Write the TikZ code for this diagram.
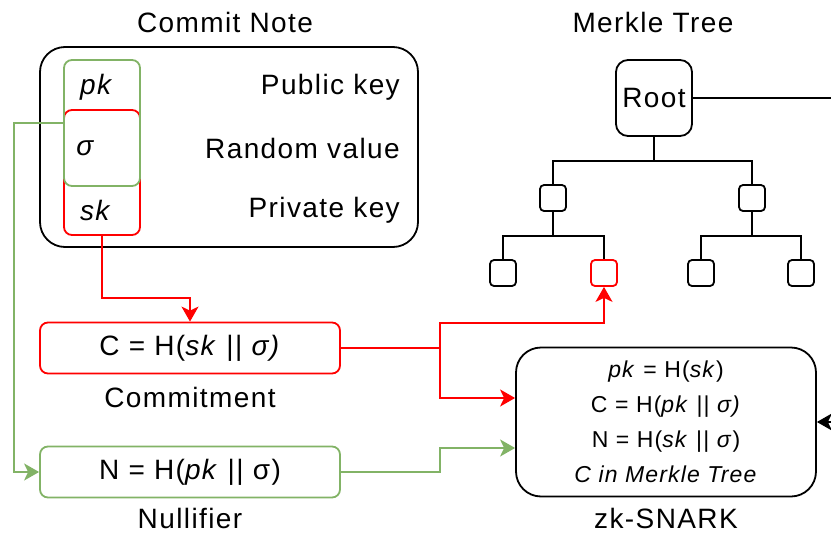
\documentclass[tikz,border=0pt]{standalone}
\usepackage{fontspec}
\setmainfont[LetterSpace=5]{Liberation Sans}
\usetikzlibrary{arrows.meta}
\usetikzlibrary{positioning}

\definecolor{keyred}{HTML}{FF0000}
\definecolor{keygreen}{HTML}{82B366}

\begin{document}
\begin{tikzpicture}[x=1pt,y=-1pt,line width=1.8pt,
        every node/.style={font=\fontsize{28}{32}\selectfont},
        box/.style={draw,rounded corners=8pt,inner sep=0pt},
        leaf/.style={draw,rounded corners=4pt,minimum size=26pt,inner sep=0pt},
        arr/.style={-{Stealth[length=15pt,width=17pt,inset=4pt]}}]
        	\useasboundingbox (0,0) rectangle (831,536);

        	\node (notetitle) at (225,22) {Commit Note};
        	\node[box,rounded corners=25pt,minimum width=378pt,minimum height=200pt] (note) at (229,147) {};
        	\node[box,draw=keyred,minimum width=76pt,minimum height=125pt] (rbox) at (102,172.5) {};
        	\node[box,draw=keygreen,minimum width=76pt,minimum height=126pt] (gbox) at (102,123) {};
        	\node (pk) at (97,87) {\textit{pk}};
        	\node (sigma) at (86,148) {\textit{σ}};
        	\node (sk) at (96,210) {\textit{sk}};
        	\node[anchor=east] (pub) at (404,87) {Public key};
        	\node[anchor=east] (rand) at (404,148) {Random value};
        	\node[anchor=east] (priv) at (404,210) {Private key};

        	\node[box,draw=keyred,minimum width=300pt,minimum height=51pt] (comm) at (190,348) {C = H(\textit{sk} || \textit{σ)}};
        	\node (commlabel) at (190,397) {Commitment};
        	\node[box,draw=keygreen,minimum width=300pt,minimum height=51pt] (null) at (190,472) {N = H(\textit{pk} || σ)};
        	\node (nulllabel) at (190,518) {Nullifier};

        	\node (treetitle) at (653,22) {Merkle Tree};
        	\node[box,rounded corners=12pt,minimum size=76pt] (root) at (654,98) {Root};
        	\foreach \i/\x in {1/553,2/752} {
        		\node[leaf] (m\i) at (\x,198) {};
        	}
        	\foreach \i/\x in {1/503,2/604,3/701,4/801} {
        		\ifnum \i = 2
        			\node[leaf,draw=keyred] (l\i) at (\x,273) {};
        		\else
        			\node[leaf] (l\i) at (\x,273) {};
        		\fi
        	}
        	\draw (root.south) -- ++(0,24) coordinate (rj);
        	\draw (rj) -| (m1.north);
        	\draw (rj) -| (m2.north);
        	\draw (m1.south) -- ++(0,24) coordinate (j1);
        	\draw (j1) -| (l1.north);
        	\draw (j1) -| (l2.north);
        	\draw (m2.south) -- ++(0,24) coordinate (j2);
        	\draw (j2) -| (l3.north);
        	\draw (j2) -| (l4.north);

        	\node[box,rounded corners=25pt,minimum width=300pt,minimum height=149pt,align=center,
        		font=\fontsize{23}{35}\selectfont] (snark) at (666,422)
        		{\textit{pk} = H(\textit{sk})\\C = H(\textit{pk} || \textit{σ)}\\N = H(\textit{sk} || \textit{σ})\\\textit{C in Merkle Tree}};
        	\node (snarklabel) at (666,518) {zk-SNARK};

        	\draw[keygreen,arr] (gbox.west) -- ++(-49,0) |- (null.west);
        	\draw[keyred,arr] (rbox.south) -- ++(0,62) -| (comm.north);
        	\draw[keyred] (comm.east) -- ++(99,0) coordinate (split);
        	\draw[keyred,arr] (split) -- ++(0,-25) -| (l2.south);
        	\draw[keyred,arr] (split) |- ([yshift=24pt]snark.west);
        	\draw[keygreen,arr] (null.east) -- ++(99,0) |- ([yshift=-26pt]snark.west);
        	\draw[arr] (root.east) -- ++(170,0) |- (snark.east);
        \end{tikzpicture}
\end{document}
